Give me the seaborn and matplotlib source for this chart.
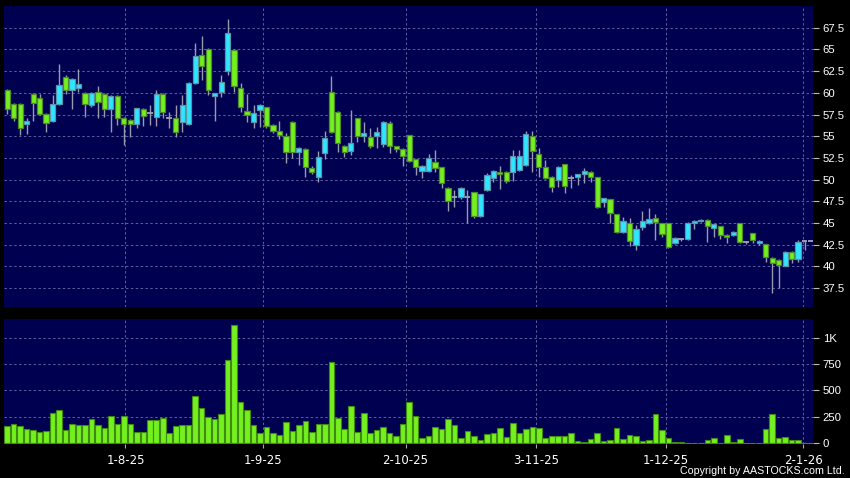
import numpy as np
import pandas as pd
import matplotlib
matplotlib.use("Agg")
import matplotlib.pyplot as plt
import seaborn as sns

# ---------------- data ----------------
opens = [60.3, 58.7, 58.7, 56.4, 59.9, 59.4, 57.6, 56.8, 58.7, 61.8,
         60.3, 60.6, 60.0, 58.6, 60.1, 59.9, 58.1, 59.6, 57.1, 56.85,
         56.4, 58.1, 57.65, 57.25, 59.9, 57.1, 57.1, 56.6, 56.4, 61.1,
         64.3, 65.1, 59.6, 60.07, 62.52, 64.94, 60.53, 57.88, 56.6, 58.03,
         58.34, 56.27, 55.58, 55.07, 56.68, 53.16, 53.5, 51.31, 50.28, 53.04,
         60.07, 57.83, 53.92, 53.3, 57.07, 55.07, 54.95, 55.07, 54.08, 56.5,
         53.85, 53.5, 55.15, 52.35, 51.04, 51.04, 52.0, 51.43, 49.0, 47.97,
         47.97, 47.97, 48.55, 45.82, 48.81, 50.23, 50.92, 50.92, 50.92, 51.12,
         51.69, 55.03, 52.92, 51.43, 50.35, 49.97, 51.77, 50.16, 50.28, 50.66,
         50.85, 50.28, 47.47, 47.74, 46.01, 44.01, 44.98, 42.48, 44.59, 45.05,
         45.55, 44.98, 44.98, 42.67, 43.13, 43.13, 44.98, 45.2, 45.39, 44.4,
         44.67, 43.63, 43.63, 44.98, 42.79, 43.82, 42.67, 42.56, 41.01, 40.75,
         40.09, 41.71, 40.86, 42.97, 42.97]
highs = [60.4, 58.8, 58.8, 57.1, 60.0, 59.9, 57.7, 59.8, 63.3, 62.1,
         61.7, 62.8, 60.1, 60.1, 60.8, 60.0, 59.7, 59.7, 57.2, 57.0,
         58.3, 58.2, 58.6, 60.3, 60.0, 57.8, 58.6, 59.7, 61.2, 65.7,
         66.55, 65.2, 60.0, 62.06, 68.5, 65.1, 61.1, 59.84, 58.6, 58.75,
         58.4, 56.4, 56.76, 55.35, 56.8, 53.8, 53.6, 51.6, 53.3, 55.61,
         61.95, 57.9, 54.0, 58.03, 57.1, 56.68, 55.92, 56.1, 56.7, 56.7,
         53.9, 53.6, 55.2, 52.4, 51.7, 52.96, 53.42, 51.5, 49.1, 48.81,
         49.1, 48.8, 48.6, 48.4, 50.81, 51.1, 51.58, 51.0, 53.42, 53.42,
         55.61, 55.61, 53.62, 52.27, 50.4, 51.6, 51.85, 50.54, 50.7, 51.31,
         51.0, 50.3, 47.9, 47.8, 46.1, 45.74, 45.55, 44.78, 46.43, 46.7,
         46.05, 45.0, 45.0, 43.4, 43.3, 45.16, 45.3, 45.45, 45.45, 44.9,
         44.7, 43.7, 44.1, 45.0, 42.9, 43.9, 43.0, 42.6, 41.1, 40.9,
         41.8, 41.8, 43.0, 43.0, 42.97]
lows = [57.6, 56.8, 55.1, 55.3, 56.8, 57.5, 55.5, 56.6, 58.6, 59.9,
        58.1, 60.1, 57.25, 58.4, 57.1, 57.2, 55.5, 56.3, 54.0, 54.95,
        56.0, 56.2, 56.3, 56.2, 57.1, 55.9, 54.95, 55.5, 56.3, 61.0,
        61.5, 59.8, 56.8, 59.56, 62.06, 60.07, 57.8, 56.68, 55.99, 56.1,
        55.92, 55.35, 54.7, 51.96, 52.46, 51.7, 50.35, 50.6, 49.77, 52.38,
        55.35, 53.16, 52.65, 52.85, 54.31, 54.38, 53.69, 53.69, 53.8, 53.04,
        53.2, 51.61, 52.0, 50.54, 50.16, 50.9, 50.92, 49.0, 46.43, 46.89,
        47.8, 45.0, 45.55, 45.7, 48.7, 49.77, 48.93, 49.65, 49.85, 51.0,
        51.6, 50.92, 50.35, 50.04, 48.62, 49.19, 48.43, 49.0, 49.39, 49.59,
        49.77, 46.7, 46.89, 45.0, 43.82, 43.9, 42.36, 41.9, 44.2, 44.9,
        43.05, 43.43, 42.1, 42.6, 42.9, 43.0, 44.29, 45.1, 42.86, 43.43,
        43.13, 42.67, 43.5, 42.7, 42.6, 42.67, 42.5, 40.55, 36.98, 37.49,
        40.0, 40.37, 40.55, 41.9, 42.97]
closes = [58.1, 57.1, 55.9, 56.7, 58.8, 57.6, 56.5, 58.7, 60.9, 60.3,
          61.6, 61.0, 58.75, 60.0, 59.0, 58.1, 59.6, 57.1, 56.4, 56.4,
          58.2, 57.3, 57.65, 59.9, 57.8, 57.1, 55.5, 58.6, 61.1, 64.2,
          63.1, 60.3, 59.95, 61.2, 66.87, 60.83, 58.34, 57.42, 57.65, 58.6,
          56.19, 55.61, 55.1, 53.16, 53.16, 53.62, 51.5, 50.85, 52.65, 54.77,
          55.46, 54.19, 53.16, 54.26, 55.07, 55.35, 53.92, 55.46, 56.61, 53.88,
          53.5, 52.77, 52.15, 51.5, 51.58, 52.47, 51.38, 49.59, 47.58, 47.97,
          49.0, 47.97, 45.82, 48.32, 50.54, 51.0, 50.62, 49.88, 52.77, 52.77,
          55.26, 53.34, 51.43, 50.23, 49.12, 51.43, 49.27, 50.16, 50.66, 51.0,
          50.28, 46.89, 47.85, 46.13, 44.01, 45.28, 42.97, 44.29, 45.28, 45.44,
          45.16, 43.72, 42.21, 43.25, 43.13, 44.98, 45.2, 45.39, 44.7, 44.86,
          43.63, 43.43, 44.01, 42.86, 42.79, 43.05, 42.94, 41.13, 40.37, 40.17,
          41.71, 40.86, 42.86, 42.97, 42.97]
volumes = [167, 180, 164, 135, 129, 110, 116, 284, 315, 123,
           180, 173, 173, 227, 173, 145, 256, 183, 259, 183,
           110, 107, 218, 224, 240, 95, 164, 170, 173, 448,
           334, 252, 230, 277, 789, 1117, 391, 315, 170, 95,
           157, 95, 79, 202, 119, 176, 208, 110, 183, 183,
           767, 242, 133, 356, 107, 284, 100, 129, 151, 95,
           66, 180, 394, 256, 47, 72, 151, 135, 227, 173,
           50, 116, 66, 34, 88, 95, 145, 57, 195, 100,
           138, 154, 142, 50, 72, 72, 72, 98, 19, 15,
           41, 95, 25, 31, 148, 44, 82, 66, 19, 34,
           277, 126, 47, 9, 9, 3, 2, 2, 31, 47,
           2, 82, 15, 41, 5, 2, 5, 135, 274, 53,
           60, 34, 34, 5, 1]
date_labels = ["1-8-25", "1-9-25", "2-10-25", "3-11-25", "1-12-25", "2-1-26"]
price_ticks = [37.5, 40, 42.5, 45, 47.5, 50, 52.5, 55, 57.5, 60, 62.5, 65, 67.5]
volume_ticks = [0, 250, 500, 750, 1000]
volume_tick_labels = ["0", "250", "500", "750", "1K"]

# ---------------- layout / style ----------------
date_tick_pos = [18.24, 39.4, 61.45, 81.6, 101.65, 122.8]

NAVY = "#000050"
GRID = "#5e5ea0"
UP_FILL, UP_EDGE = "#2ee6ff", "#5b93aa"
DN_FILL, DN_EDGE = "#74f01e", "#4e8a2c"
DOJI = "#9a9ab4"
WICK = "#9a9aae"

sns.set_theme(style="dark")
plt.rcParams["font.family"] = ["DejaVu Sans"]

df = pd.DataFrame({"idx": np.arange(len(opens)), "open": opens, "high": highs,
                   "low": lows, "close": closes, "volume": volumes})

fig = plt.figure(figsize=(8.5, 4.78), dpi=100, facecolor="black")
W, H = 850.0, 478.0
ax_p = fig.add_axes([4 / W, 1 - 306.7 / H, 809 / W, (306.7 - 6) / H])
ax_v = fig.add_axes([4 / W, 1 - 444 / H, 809 / W, (444 - 319) / H])

for ax in (ax_p, ax_v):
    ax.set_facecolor(NAVY)
    for s in ax.spines.values():
        s.set_visible(False)
    ax.set_axisbelow(True)
    ax.grid(True, color=GRID, linestyle=(0, (2.5, 2.5)), linewidth=0.7)

# ---- candles ----
is_doji = np.isclose(df["open"], df["close"])
is_up = (df["close"] > df["open"]) & ~is_doji
body_bottom = np.minimum(df["open"], df["close"])
body_h = np.abs(df["close"] - df["open"])
fills = np.where(is_doji, DOJI, np.where(is_up, UP_FILL, DN_FILL))
edges = np.where(is_doji, DOJI, np.where(is_up, UP_EDGE, DN_EDGE))

ax_p.vlines(df["idx"], df["low"], df["high"], color=WICK, linewidth=1.0, zorder=2)
nd = ~is_doji
ax_p.bar(df["idx"][nd], body_h[nd], bottom=body_bottom[nd], width=0.8,
         color=fills[nd], edgecolor=edges[nd], linewidth=0.9, zorder=3)
ax_p.hlines(df["close"][is_doji], df["idx"][is_doji] - 0.45, df["idx"][is_doji] + 0.45,
            color=DOJI, linewidth=1.4, zorder=3)

ax_p.set_xlim(-0.49, 124.3)
ax_p.set_ylim(35.37, 70.0)
ax_p.set_xticks(date_tick_pos)
ax_p.tick_params(axis="x", length=0, labelbottom=False)
ax_p.yaxis.tick_right()
ax_p.set_yticks(price_ticks)
ax_p.set_yticklabels([f"{t:g}" for t in price_ticks])
ax_p.tick_params(axis="y", colors="#bbbbbb", labelcolor="white", length=4,
                 width=0.8, pad=3, labelsize=8.2, right=True, left=False)
for lab in ax_p.get_yticklabels():
    lab.set_family("Liberation Sans")

# ---- volume ----
sns.barplot(data=df, x="idx", y="volume", native_scale=True, width=0.86,
            color=DN_FILL, saturation=1, edgecolor="#3f8a12", linewidth=0.8,
            errorbar=None, ax=ax_v, zorder=3)
ax_v.set_xlabel("")
ax_v.set_ylabel("")
ax_v.set_xlim(-0.49, 124.3)
ax_v.set_ylim(-7, 1177)
ax_v.set_xticks(date_tick_pos)
ax_v.set_xticklabels(date_labels)
ax_v.tick_params(axis="x", colors="#aaaaaa", labelcolor="white", length=3,
                 width=0.8, pad=4, labelsize=8.5, bottom=True)
ax_v.yaxis.tick_right()
ax_v.set_yticks(volume_ticks)
ax_v.set_yticklabels(volume_tick_labels)
ax_v.tick_params(axis="y", colors="#bbbbbb", labelcolor="white", length=4,
                 width=0.8, pad=3, labelsize=8.2, right=True, left=False)
for lab in ax_v.get_yticklabels():
    lab.set_family("Liberation Sans")

fig.text(845 / W, 1 - 471 / H, "Copyright by AASTOCKS.com Ltd.", color="white",
         ha="right", va="center", fontsize=7.7, family="Liberation Sans")

fig.savefig("out.png", dpi=100, facecolor="black")
